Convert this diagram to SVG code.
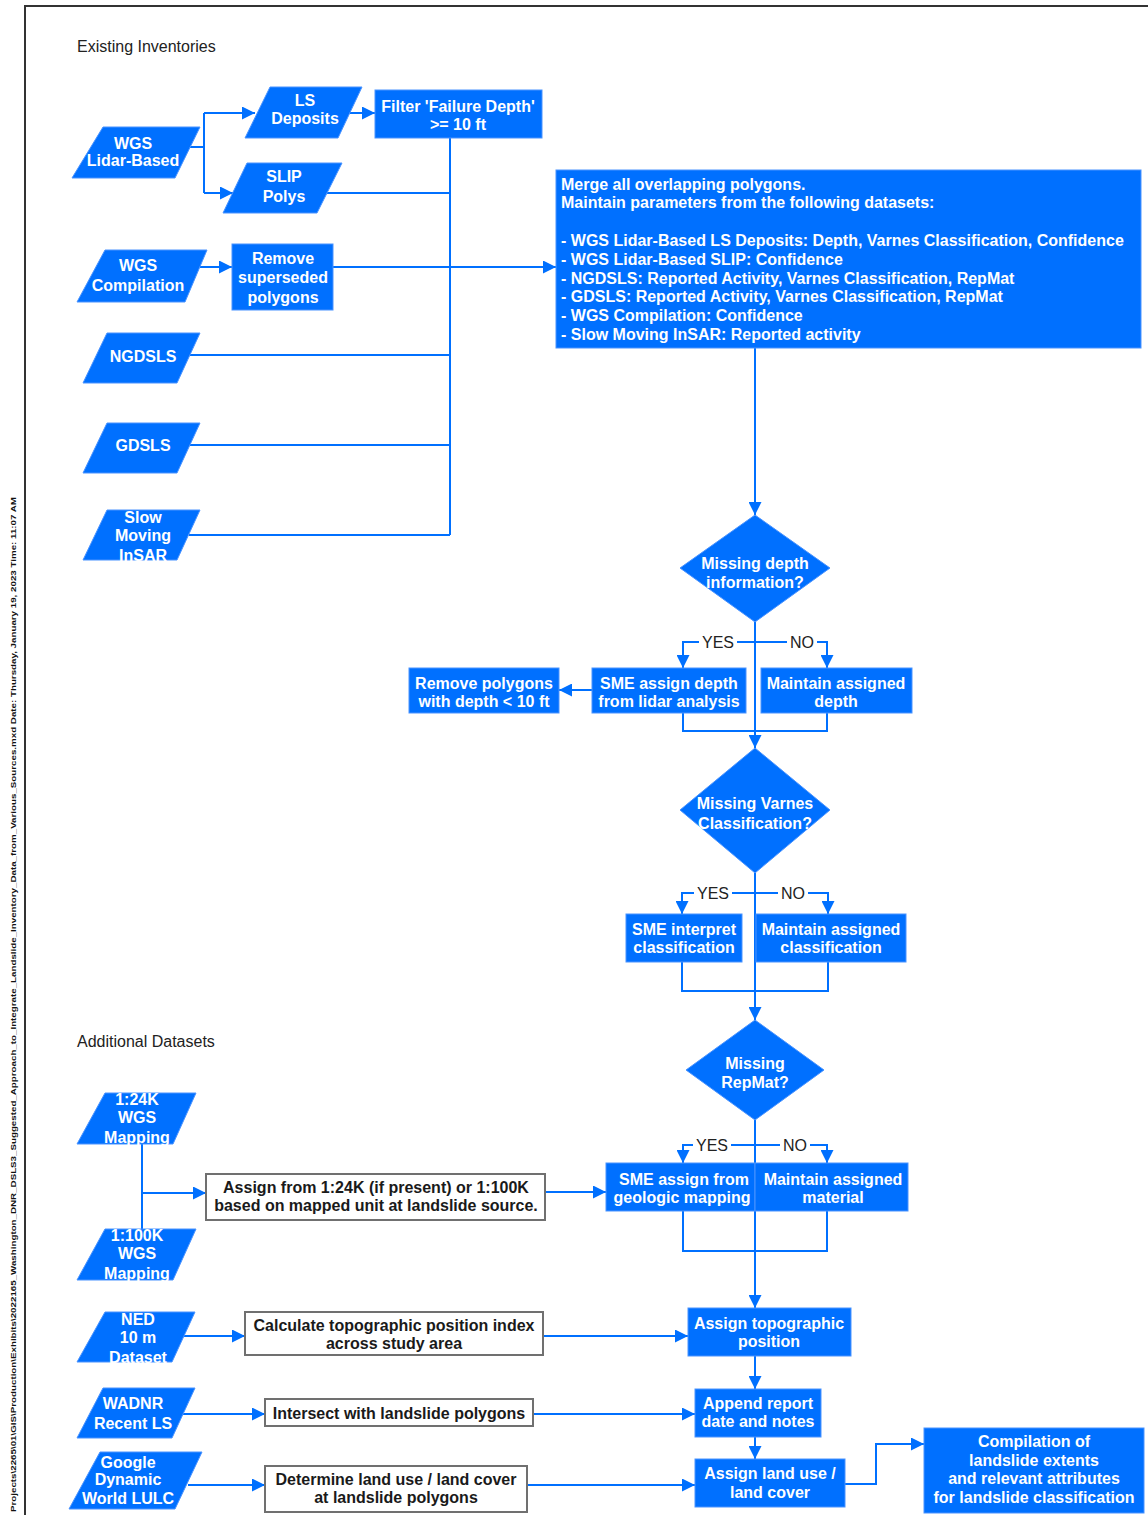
<svg xmlns="http://www.w3.org/2000/svg" width="1148" height="1515" viewBox="0 0 1148 1515">
<style>
.bl{fill:#0070ff;stroke:#4a93ff;stroke-width:1}
.wh{fill:#ffffff;stroke:#707070;stroke-width:2}
.t{font-family:"Liberation Sans",Arial,sans-serif;font-size:16px;font-weight:bold;fill:#ffffff;text-anchor:middle}
.k{fill:#1a1a1a}
.s{text-anchor:start}
.lab{font-family:"Liberation Sans",Arial,sans-serif;font-size:16px;fill:#222222;text-anchor:middle}
.hd{font-family:"Liberation Sans",Arial,sans-serif;font-size:16px;fill:#222222}
.c{fill:none;stroke:#0070ff;stroke-width:2}
.a{marker-end:url(#ah)}
.lb{fill:#ffffff}
</style>
<defs>
<marker id="ah" markerUnits="userSpaceOnUse" markerWidth="13" markerHeight="13" refX="13" refY="6.5" orient="auto"><path d="M0,0 L13,6.5 L0,13 z" fill="#0070ff"/></marker>
</defs>
<rect width="1148" height="1515" fill="#ffffff"/>
<path d="M25,1515 V6 H1148" fill="none" stroke="#333333" stroke-width="2"/>
<text transform="translate(16,1512) rotate(-90)" font-family="Liberation Sans,Arial,sans-serif" font-size="7" font-weight="bold" fill="#111111" textLength="1015" lengthAdjust="spacingAndGlyphs">Projects\2265\01\GIS\Production\Exhibits\2022165_Washington_DNR_DSLS3_Suggested_Approach_to_Integrate_Landslide_Inventory_Data_from_Various_Sources.mxd Date: Thursday, January 19, 2023 Time: 11:07 AM</text>
<text class="hd" x="77" y="52">Existing Inventories</text>
<text class="hd" x="77" y="1047">Additional Datasets</text>

<g id="connectors">
<path class="c" d="M190,147 H204 M204,113 V193"/>
<path class="c a" d="M204,113 H255"/>
<path class="c a" d="M204,193 H233"/>
<path class="c a" d="M350,113 H375"/>
<path class="c" d="M450,138 V535"/>
<path class="c" d="M327,193 H450"/>
<path class="c a" d="M200,267 H232"/>
<path class="c a" d="M333,267 H556"/>
<path class="c" d="M190,355 H450"/>
<path class="c" d="M190,445 H450"/>
<path class="c" d="M189,535 H450"/>
<path class="c a" d="M755,348 V515"/>
<path class="c a" d="M755,622 V748"/>
<path class="c a" d="M755,642 H683 V668"/>
<path class="c a" d="M755,642 H827 V668"/>
<path class="c a" d="M592,690 H559"/>
<path class="c" d="M683,713 V731 H827 V713"/>
<path class="c a" d="M755,873 V1020"/>
<path class="c a" d="M755,893 H682 V914"/>
<path class="c a" d="M755,893 H828 V914"/>
<path class="c" d="M682,962 V991 H828 V962"/>
<path class="c a" d="M755,1120 V1308"/>
<path class="c a" d="M755,1145 H683 V1163"/>
<path class="c a" d="M755,1145 H827 V1163"/>
<path class="c" d="M683,1211 V1251 H827 V1211"/>
<path class="c a" d="M545,1192 H606"/>
<path class="c" d="M142,1144 V1229"/>
<path class="c a" d="M142,1193 H206"/>
<path class="c a" d="M183,1336 H245"/>
<path class="c a" d="M543,1336 H688"/>
<path class="c a" d="M755,1356 V1389"/>
<path class="c a" d="M755,1437 V1459"/>
<path class="c a" d="M182,1414 H265"/>
<path class="c a" d="M533,1414 H695"/>
<path class="c a" d="M188,1485 H265"/>
<path class="c a" d="M527,1485 H695"/>
<path class="c a" d="M845,1484 H876 V1444 H924"/>
<rect class="lb" x="699" y="634" width="38" height="15"/>
<text class="lab" x="718" y="648">YES</text>
<rect class="lb" x="787" y="634" width="30" height="15"/>
<text class="lab" x="802" y="648">NO</text>
<rect class="lb" x="694" y="885" width="38" height="15"/>
<text class="lab" x="713" y="899">YES</text>
<rect class="lb" x="778" y="885" width="30" height="15"/>
<text class="lab" x="793" y="899">NO</text>
<rect class="lb" x="693" y="1137" width="38" height="15"/>
<text class="lab" x="712" y="1151">YES</text>
<rect class="lb" x="780" y="1137" width="30" height="15"/>
<text class="lab" x="795" y="1151">NO</text>
</g>

<g id="wgs-lidar"><polygon class="bl" points="103,127 200,127 175,178 72,178"/><text class="t" x="133" y="149">WGS</text><text class="t" x="133" y="166">Lidar-Based</text></g>
<g id="ls-deposits"><polygon class="bl" points="270,87 362,87 338,138 245,138"/><text class="t" x="305" y="106">LS</text><text class="t" x="305" y="124">Deposits</text></g>
<g id="slip-polys"><polygon class="bl" points="247,163 342,163 317,213 223,213"/><text class="t" x="284" y="182">SLIP</text><text class="t" x="284" y="202">Polys</text></g>
<g id="filter"><rect class="bl" x="375" y="90" width="167" height="48"/><text class="t" x="458" y="112">Filter 'Failure Depth'</text><text class="t" x="458" y="130">&gt;= 10 ft</text></g>
<g id="wgs-compilation"><polygon class="bl" points="105,250 207,250 185,302 77,302"/><text class="t" x="138" y="271">WGS</text><text class="t" x="138" y="291">Compilation</text></g>
<g id="remove-superseded"><rect class="bl" x="232" y="244" width="101" height="66"/><text class="t" x="283" y="264">Remove</text><text class="t" x="283" y="283">superseded</text><text class="t" x="283" y="303">polygons</text></g>
<g id="ngdsls"><polygon class="bl" points="107,333 200,333 177,383 83,383"/><text class="t" x="143" y="362">NGDSLS</text></g>
<g id="gdsls"><polygon class="bl" points="107,423 200,423 177,473 83,473"/><text class="t" x="143" y="451">GDSLS</text></g>
<g id="slow-moving"><polygon class="bl" points="107,510 200,510 177,560 83,560"/><text class="t" x="143" y="523">Slow</text><text class="t" x="143" y="541">Moving</text><text class="t" x="143" y="561">InSAR</text></g>

<g id="merge"><rect class="bl" x="556" y="170" width="585" height="178"/>
<text class="t s" x="561" y="190">Merge all overlapping polygons.</text>
<text class="t s" x="561" y="208">Maintain parameters from the following datasets:</text>
<text class="t s" x="561" y="246">- WGS Lidar-Based LS Deposits: Depth, Varnes Classification, Confidence</text>
<text class="t s" x="561" y="265">- WGS Lidar-Based SLIP: Confidence</text>
<text class="t s" x="561" y="284">- NGDSLS: Reported Activity, Varnes Classification, RepMat</text>
<text class="t s" x="561" y="302">- GDSLS: Reported Activity, Varnes Classification, RepMat</text>
<text class="t s" x="561" y="321">- WGS Compilation: Confidence</text>
<text class="t s" x="561" y="340">- Slow Moving InSAR: Reported activity</text>
</g>

<g id="missing-depth"><polygon class="bl" points="755,515 830,568 755,622 680,568"/><text class="t" x="755" y="569">Missing depth</text><text class="t" x="755" y="588">information?</text></g>
<g id="remove-polygons"><rect class="bl" x="409" y="668" width="150" height="45"/><text class="t" x="484" y="689">Remove polygons</text><text class="t" x="484" y="707">with depth &lt; 10 ft</text></g>
<g id="sme-depth"><rect class="bl" x="592" y="668" width="154" height="45"/><text class="t" x="669" y="689">SME assign depth</text><text class="t" x="669" y="707">from lidar analysis</text></g>
<g id="maintain-depth"><rect class="bl" x="761" y="668" width="151" height="45"/><text class="t" x="836" y="689">Maintain assigned</text><text class="t" x="836" y="707">depth</text></g>

<g id="missing-varnes"><polygon class="bl" points="755,748 830,810 755,873 680,810"/><text class="t" x="755" y="809">Missing Varnes</text><text class="t" x="755" y="829">Classification?</text></g>
<g id="sme-interpret"><rect class="bl" x="626" y="914" width="116" height="48"/><text class="t" x="684" y="935">SME interpret</text><text class="t" x="684" y="953">classification</text></g>
<g id="maintain-class"><rect class="bl" x="756" y="914" width="150" height="48"/><text class="t" x="831" y="935">Maintain assigned</text><text class="t" x="831" y="953">classification</text></g>

<g id="missing-repmat"><polygon class="bl" points="755,1020 824,1070 755,1120 686,1070"/><text class="t" x="755" y="1069">Missing</text><text class="t" x="755" y="1088">RepMat?</text></g>
<g id="sme-geologic"><rect class="bl" x="606" y="1163" width="149" height="48"/><text class="t" x="684" y="1185">SME assign from</text><text class="t" x="682" y="1203">geologic mapping</text></g>
<g id="maintain-material"><rect class="bl" x="755" y="1163" width="153" height="48"/><text class="t" x="833" y="1185">Maintain assigned</text><text class="t" x="833" y="1203">material</text></g>

<g id="map-24k"><polygon class="bl" points="105,1093 196,1093 173,1144 77,1144"/><text class="t" x="137" y="1105">1:24K</text><text class="t" x="137" y="1123">WGS</text><text class="t" x="137" y="1143">Mapping</text></g>
<g id="map-100k"><polygon class="bl" points="105,1229 196,1229 173,1280 77,1280"/><text class="t" x="137" y="1241">1:100K</text><text class="t" x="137" y="1259">WGS</text><text class="t" x="137" y="1279">Mapping</text></g>
<g id="assign-from"><rect class="wh" x="206" y="1174" width="339" height="46"/><text class="t k" x="376" y="1193">Assign from 1:24K (if present) or 1:100K</text><text class="t k" x="376" y="1211">based on mapped unit at landslide source.</text></g>

<g id="ned"><polygon class="bl" points="105,1312 195,1312 172,1362 77,1362"/><text class="t" x="138" y="1325">NED</text><text class="t" x="138" y="1343">10 m</text><text class="t" x="138" y="1363">Dataset</text></g>
<g id="calc-tpi"><rect class="wh" x="245" y="1312" width="298" height="43"/><text class="t k" x="394" y="1331">Calculate topographic position index</text><text class="t k" x="394" y="1349">across study area</text></g>
<g id="assign-topo"><rect class="bl" x="688" y="1308" width="163" height="48"/><text class="t" x="769" y="1329">Assign topographic</text><text class="t" x="769" y="1347">position</text></g>

<g id="wadnr"><polygon class="bl" points="103,1388 195,1388 172,1438 77,1438"/><text class="t" x="133" y="1409">WADNR</text><text class="t" x="133" y="1429">Recent LS</text></g>
<g id="intersect"><rect class="wh" x="265" y="1399" width="268" height="27"/><text class="t k" x="399" y="1419">Intersect with landslide polygons</text></g>
<g id="append-report"><rect class="bl" x="695" y="1389" width="126" height="48"/><text class="t" x="758" y="1409">Append report</text><text class="t" x="758" y="1427">date and notes</text></g>

<g id="google"><polygon class="bl" points="100,1452 202,1452 175,1509 69,1509"/><text class="t" x="128" y="1468">Google</text><text class="t" x="128" y="1485">Dynamic</text><text class="t" x="128" y="1504">World LULC</text></g>
<g id="determine-lulc"><rect class="wh" x="265" y="1466" width="262" height="46"/><text class="t k" x="396" y="1485">Determine land use / land cover</text><text class="t k" x="396" y="1503">at landslide polygons</text></g>
<g id="assign-lulc"><rect class="bl" x="695" y="1459" width="150" height="48"/><text class="t" x="770" y="1479">Assign land use /</text><text class="t" x="770" y="1498">land cover</text></g>

<g id="compilation"><rect class="bl" x="924" y="1428" width="220" height="85"/><text class="t" x="1034" y="1447">Compilation of</text><text class="t" x="1034" y="1466">landslide extents</text><text class="t" x="1034" y="1484">and relevant attributes</text><text class="t" x="1034" y="1503">for landslide classification</text></g>
</svg>
